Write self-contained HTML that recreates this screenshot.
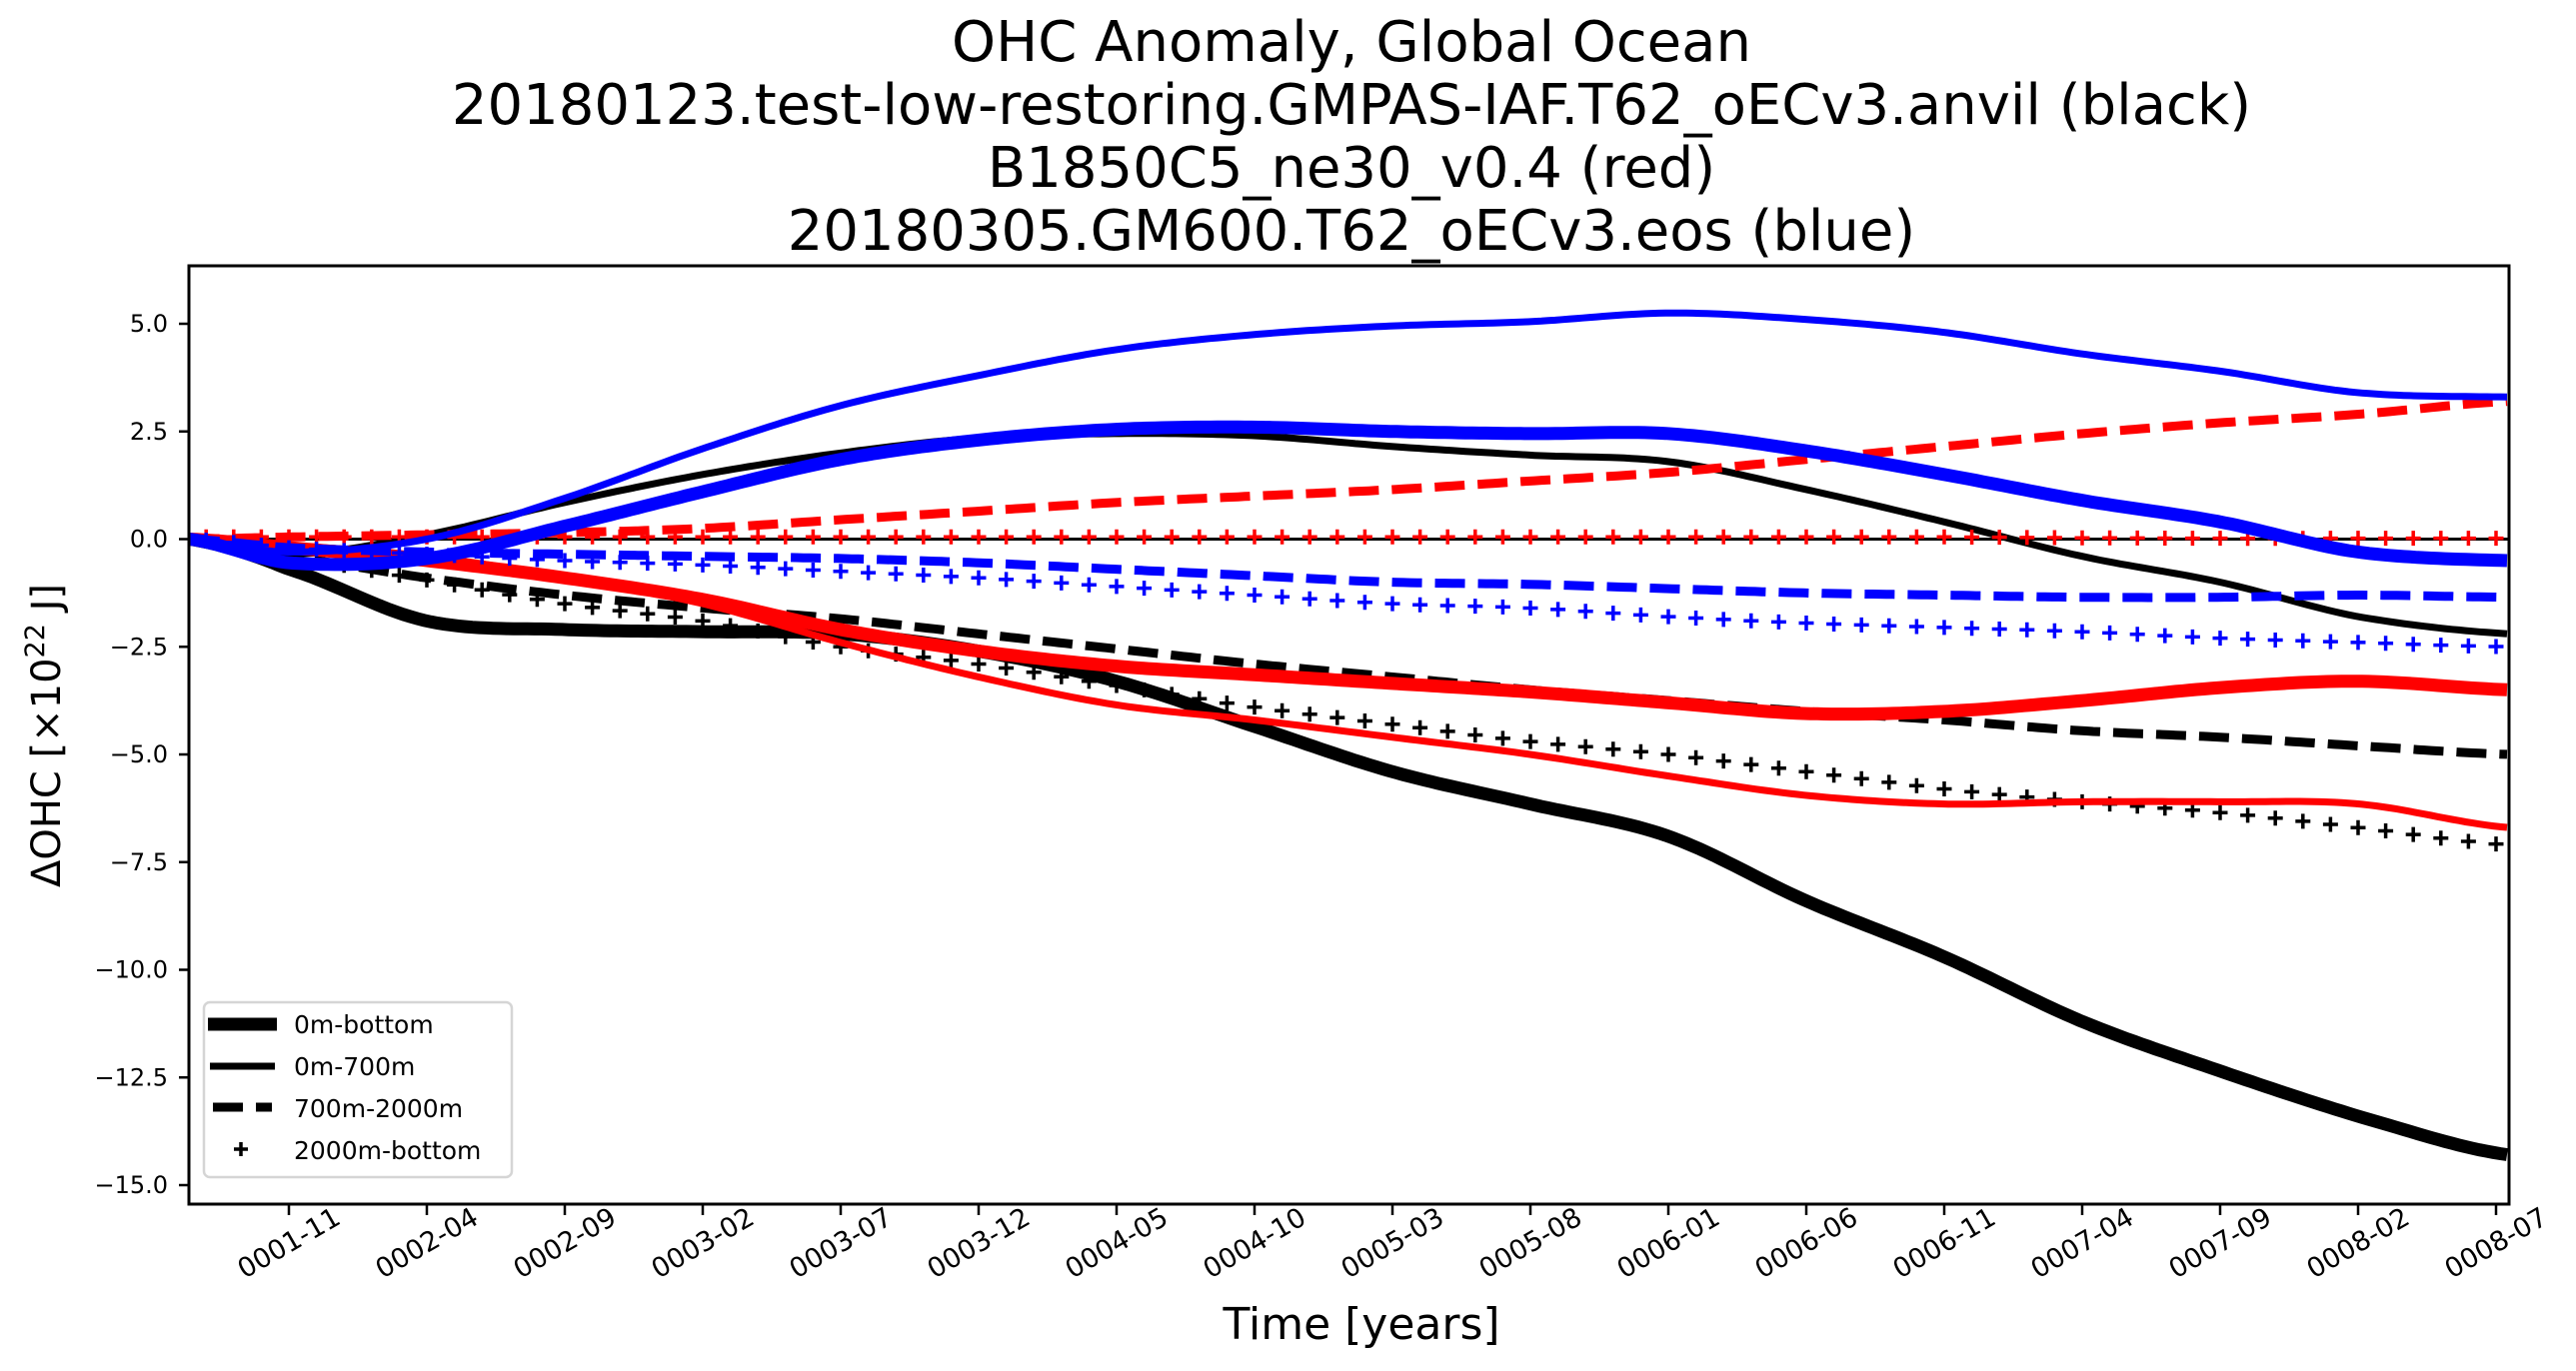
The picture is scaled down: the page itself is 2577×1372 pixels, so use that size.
<!DOCTYPE html>
<html><head><meta charset="utf-8"><style>
html,body{margin:0;padding:0;background:#fff;}
svg text{font-family:"DejaVu Sans","Liberation Sans",sans-serif;}
</style></head><body>
<svg id="chart" width="2577" height="1367" viewBox="0 0 2577 1367" xmlns="http://www.w3.org/2000/svg">
<rect width="2577" height="1367" fill="#fff"/>
<g text-anchor="middle" font-size="56" fill="#000">
<text x="1352" y="61">OHC Anomaly, Global Ocean</text>
<text x="1352" y="124">20180123.test-low-restoring.GMPAS-IAF.T62_oECv3.anvil (black)</text>
<text x="1352" y="187">B1850C5_ne30_v0.4 (red)</text>
<text x="1352" y="250">20180305.GM600.T62_oECv3.eos (blue)</text>
</g>
<g id="plot"></g>
<rect x="189" y="266" width="2321" height="939" fill="none" stroke="#000" stroke-width="3"/>
<g id="axes"></g>
<text x="1362" y="1340" text-anchor="middle" font-size="44">Time [years]</text>
<text transform="translate(60,736) rotate(-90)" text-anchor="middle" font-size="40">ΔOHC [×10<tspan font-size="27" dy="-16">22</tspan><tspan dy="16"> J]</tspan></text>
<g id="legend">
<rect x="204" y="1003" width="308" height="175" rx="6" fill="#fff" fill-opacity="0.8" stroke="#d5d5d5" stroke-width="2.5"/>
<line x1="208" y1="1025" x2="277" y2="1025" stroke="#000" stroke-width="13"/>
<text x="294" y="1034" font-size="25">0m-bottom</text>
<line x1="210" y1="1067" x2="275" y2="1067" stroke="#000" stroke-width="7"/>
<text x="294" y="1076" font-size="25">0m-700m</text>
<line x1="213" y1="1108" x2="272" y2="1108" stroke="#000" stroke-width="9" stroke-dasharray="30,13"/>
<text x="294" y="1118" font-size="25">700m-2000m</text>
<path d="M234 1150h14M241 1143v14" stroke="#000" stroke-width="3.5"/>
<text x="294" y="1160" font-size="25">2000m-bottom</text>
</g>
</svg>
<script>
// months since 0001-01
const months = [6.4, 10, 15, 20, 25, 30, 35, 40, 45, 50, 55, 60, 65, 70, 75, 80, 85, 90.5];
const yTicks = [5.0, 2.5, 0.0, -2.5, -5.0, -7.5, -10.0, -12.5, -15.0];
const xTickMonths = [10,15,20,25,30,35,40,45,50,55,60,65,70,75,80,85,90];
const xTickLabels = ["0001-11","0002-04","0002-09","0003-02","0003-07","0003-12","0004-05","0004-10","0005-03","0005-08","0006-01","0006-06","0006-11","0007-04","0007-09","0008-02","0008-07"];

const blackTotal = [0,-0.7,-1.9,-2.1,-2.15,-2.2,-2.6,-3.3,-4.35,-5.4,-6.15,-6.9,-8.4,-9.7,-11.2,-12.35,-13.4,-14.3];
const black700 = [0,-0.35,0.1,0.85,1.5,2.0,2.35,2.45,2.4,2.15,1.95,1.8,1.15,0.4,-0.4,-1.0,-1.8,-2.2];
const black2000 = [0,-0.4,-0.9,-1.3,-1.6,-1.85,-2.2,-2.55,-2.9,-3.2,-3.5,-3.75,-4.0,-4.2,-4.45,-4.6,-4.8,-5.0];
const blackDeep = [0,-0.4,-0.95,-1.5,-1.9,-2.5,-2.9,-3.4,-3.9,-4.3,-4.7,-5.0,-5.4,-5.8,-6.1,-6.35,-6.7,-7.1];
const redTotal = [0,-0.2,-0.5,-0.9,-1.4,-2.1,-2.6,-2.95,-3.15,-3.35,-3.55,-3.8,-4.05,-4.0,-3.75,-3.45,-3.3,-3.5];
const red700 = [0,-0.15,-0.4,-0.9,-1.5,-2.4,-3.2,-3.85,-4.2,-4.6,-5.0,-5.5,-5.95,-6.15,-6.1,-6.1,-6.15,-6.7];
const red2000 = [0,0.05,0.1,0.15,0.25,0.45,0.65,0.85,1.0,1.15,1.35,1.55,1.85,2.15,2.45,2.7,2.9,3.2];
const redDeep = [0.05,0.05,0.05,0.05,0.05,0.05,0.05,0.05,0.05,0.05,0.05,0.05,0.05,0.05,0.03,0.02,0.02,0.02];
const blueTotal = [0,-0.55,-0.45,0.3,1.1,1.85,2.3,2.55,2.6,2.5,2.45,2.45,2.05,1.5,0.9,0.4,-0.3,-0.5];
const blue700 = [0,-0.3,0.0,0.95,2.1,3.1,3.8,4.4,4.75,4.95,5.05,5.25,5.1,4.8,4.3,3.9,3.4,3.3];
const blue2000 = [0,-0.2,-0.3,-0.35,-0.4,-0.45,-0.55,-0.7,-0.85,-1.0,-1.05,-1.15,-1.25,-1.3,-1.35,-1.35,-1.3,-1.35];
const blueDeep = [0,-0.2,-0.35,-0.5,-0.6,-0.75,-0.9,-1.1,-1.3,-1.5,-1.6,-1.8,-1.95,-2.05,-2.15,-2.3,-2.4,-2.5];

const NS='http://www.w3.org/2000/svg';
const L=189,R=2510,T=266,B=1205;
function xs(m){return 289+(m-10)*27.6;}
function ys(v){return 539.5-v*43.1;}
function interp(arr,m){
  let i=0; while(i<months.length-2 && m>months[i+1]) i++;
  const p0=arr[Math.max(i-1,0)],p1=arr[i],p2=arr[i+1],p3=arr[Math.min(i+2,arr.length-1)];
  const t=Math.min(1,Math.max(0,(m-months[i])/(months[i+1]-months[i])));
  const t2=t*t,t3=t2*t;
  return 0.5*((2*p1)+(-p0+p2)*t+(2*p0-5*p1+4*p2-p3)*t2+(-p0+3*p1-3*p2+p3)*t3);
}
function pathFor(arr){
  let d='';
  for(let m=months[0];m<=months[months.length-1]+1e-6;m+=0.25){
    d+=(d?'L':'M')+xs(m).toFixed(1)+' '+ys(interp(arr,m)).toFixed(1);
  }
  return d;
}
const plot=document.getElementById('plot');
const axes=document.getElementById('axes');
const zl=document.createElementNS(NS,'line');


zl.setAttribute('x1',L);zl.setAttribute('x2',R);zl.setAttribute('y1',ys(0));zl.setAttribute('y2',ys(0));
zl.setAttribute('stroke','#000');zl.setAttribute('stroke-width','3');
plot.appendChild(zl);

function addLine(arr,color,w,dash,name){
  const p=document.createElementNS(NS,'path');
  
  
  p.setAttribute('d',pathFor(arr));
  p.setAttribute('fill','none');p.setAttribute('stroke',color);p.setAttribute('stroke-width',w);
  if(dash)p.setAttribute('stroke-dasharray',dash);
  plot.appendChild(p);
}
function addPlus(arr,color,name){
  const g=document.createElementNS(NS,'path');
  
  
  let d='';
  for(let m=7;m<=90;m+=1){
    const x=xs(m),y=ys(interp(arr,m));
    d+=`M${(x-7.5).toFixed(1)} ${y.toFixed(1)}h15M${x.toFixed(1)} ${(y-7.5).toFixed(1)}v15`;
  }
  g.setAttribute('d',d);g.setAttribute('stroke',color);g.setAttribute('stroke-width','3.5');
  plot.appendChild(g);
}
addLine(blackTotal,'#000',13,null,'black-0m-bottom-line');
addLine(black700,'#000',7,null,'black-0m-700m-line');
addLine(black2000,'#000',9,'30,13','black-700m-2000m-line');
addPlus(blackDeep,'#000','black-2000m-bottom-markers');
addLine(redTotal,'#f00',13,null,'red-0m-bottom-line');
addLine(red700,'#f00',7,null,'red-0m-700m-line');
addLine(red2000,'#f00',9,'30,13','red-700m-2000m-line');
addPlus(redDeep,'#f00','red-2000m-bottom-markers');
addLine(blueTotal,'#00f',13,null,'blue-0m-bottom-line');
addLine(blue700,'#00f',7,null,'blue-0m-700m-line');
addLine(blue2000,'#00f',9,'30,13','blue-700m-2000m-line');
addPlus(blueDeep,'#00f','blue-2000m-bottom-markers');

yTicks.forEach(v=>{
  const y=ys(v);
  const t=document.createElementNS(NS,'line');
  
  
  t.setAttribute('x1',179);t.setAttribute('x2',L);t.setAttribute('y1',y);t.setAttribute('y2',y);
  t.setAttribute('stroke','#000');t.setAttribute('stroke-width','2.5');
  axes.appendChild(t);
  const tx=document.createElementNS(NS,'text');
  
  
  tx.setAttribute('x',168);tx.setAttribute('y',y+8);tx.setAttribute('text-anchor','end');tx.setAttribute('font-size','24');
  tx.textContent=(v<0?'\u2212':'')+Math.abs(v).toFixed(1);
  axes.appendChild(tx);
});
xTickMonths.forEach((m,i)=>{
  const x=xs(m);
  const t=document.createElementNS(NS,'line');
  
  
  t.setAttribute('x1',x);t.setAttribute('x2',x);t.setAttribute('y1',B);t.setAttribute('y2',B+11);
  t.setAttribute('stroke','#000');t.setAttribute('stroke-width','2.5');
  axes.appendChild(t);
  const tx=document.createElementNS(NS,'text');
  
  
  tx.setAttribute('text-anchor','middle');tx.setAttribute('font-size','27');
  tx.setAttribute('y','9');
  tx.setAttribute('transform',`translate(${x},1244) rotate(-30)`);
  tx.textContent=xTickLabels[i];
  axes.appendChild(tx);
});
</script>
</body></html>
